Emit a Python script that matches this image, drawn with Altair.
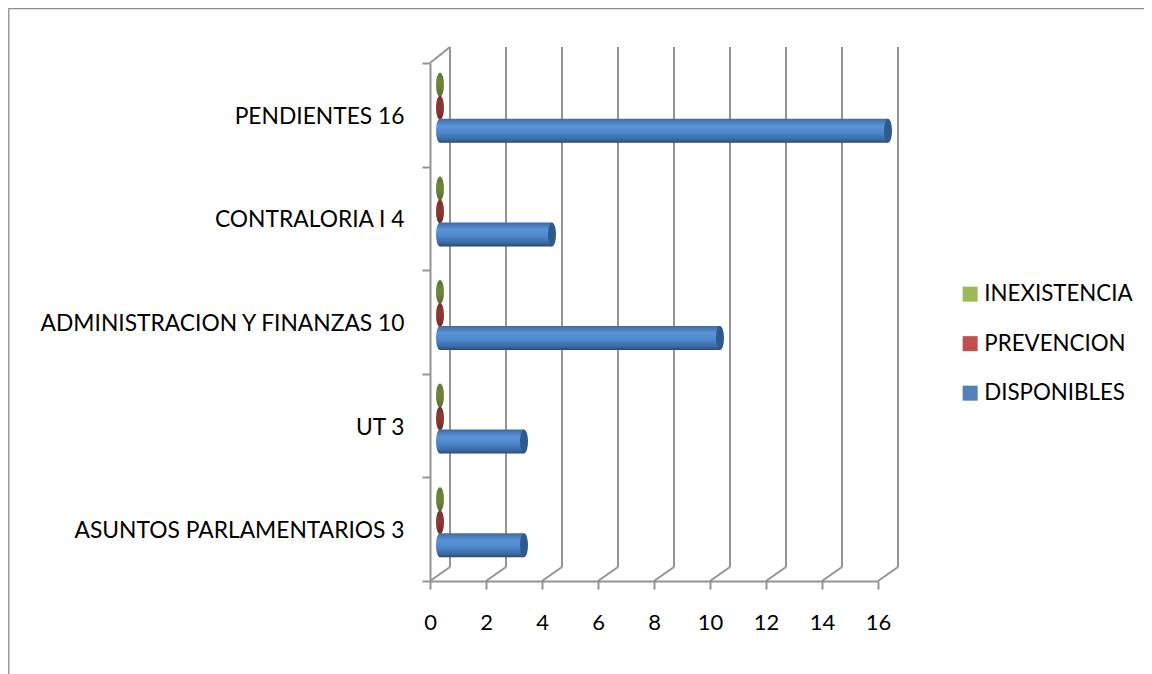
import altair as alt
import pandas as pd

categories = ["PENDIENTES 16", "CONTRALORIA I 4", "ADMINISTRACION Y FINANZAS 10", "UT 3", "ASUNTOS PARLAMENTARIOS 3"]
disponibles = [16, 4, 10, 3, 3]
prevencion = [0, 0, 0, 0, 0]
inexistencia = [0, 0, 0, 0, 0]
series = ["INEXISTENCIA", "PREVENCION", "DISPONIBLES"]
series_colors = ["#9BBB59", "#C0504D", "#4F81BD"]
ticks = [0, 2, 4, 6, 8, 10, 12, 14, 16]

W, H = 448, 518
PL, PT = 422, 55
CW, CH = 1136, 666
FONT = "Lato"
FS = 22
FSY = 22.8
GRID = "#949494"
ELL = "M-0.33,0 A0.33,1 0 1,1 0.33,0 A0.33,1 0 1,1 -0.33,0 Z"
ESIZE = 576
DX = 10

df = pd.DataFrame({"cat": categories, "dis": disponibles, "pre": prevencion, "ine": inexistencia})
long_df = pd.DataFrame({"serie": series, "v": [0, 0, 0]})
tick_df = pd.DataFrame({"t": ticks})
zero_df = pd.DataFrame({"t": [0]})

xs = alt.Scale(domain=[0, 16], nice=False, zero=True)
ys = alt.Scale(domain=categories, paddingInner=0, paddingOuter=0)
XAXIS = alt.Axis(values=ticks, grid=False, format="d", domainColor=GRID, domainWidth=2, tickColor=GRID, tickWidth=2,
                 tickSize=8, labelFont=FONT, labelFontSize=FS, labelColor="#000000", labelPadding=23, labelFlush=False,
                 title=None)
YAXIS = alt.Axis(grid=False, tickBand="extent", domainColor=GRID, domainWidth=2, tickColor=GRID, tickWidth=2, tickSize=8,
                 labelFont=FONT, labelFontSize=FSY, labelColor="#000000", labelPadding=18, labelLimit=500, title=None,
                 labelOffset=1.5)
X = lambda f: alt.X(f, type="quantitative", scale=xs, axis=XAXIS)
Y = alt.Y("cat:N", scale=ys, axis=YAXIS)


def grad(stops):
    return alt.LinearGradient(gradient="linear", x1=0, x2=0, y1=0, y2=1,
                              stops=[alt.GradientStop(offset=o, color=c) for o, c in stops])


blue = grad([(0, "#3F6C9E"), (0.3, "#5A93D8"), (0.55, "#5089CB"), (0.85, "#3A6CA6"), (1, "#29496E")])
red = grad([(0, "#7A2E2C"), (0.45, "#8F3835"), (1, "#742A28")])
green = grad([(0, "#5F7632"), (0.45, "#6E873C"), (1, "#5A7030")])

back = alt.Chart(tick_df).mark_rule(color=GRID, strokeWidth=2, xOffset=20).encode(
    x=X("t"), y=alt.value(-16), y2=alt.value(504))
slant = alt.Chart(tick_df).mark_rule(color=GRID, strokeWidth=2, x2Offset=20).encode(
    x=X("t"), x2="t:Q", y=alt.value(518), y2=alt.value(504))
slant_top = alt.Chart(zero_df).mark_rule(color=GRID, strokeWidth=2, x2Offset=20).encode(
    x=X("t"), x2="t:Q", y=alt.value(0), y2=alt.value(-16))

frame_top = alt.Chart(zero_df).mark_rule(color="#8C8C8C", strokeWidth=1.5).encode(
    x=alt.value(-PL), x2=alt.value(CW - PL), y=alt.value(-PT + 0.5))
frame_left = alt.Chart(zero_df).mark_rule(color="#9A9A9A", strokeWidth=2).encode(
    x=alt.value(-PL + 0.5), y=alt.value(-PT), y2=alt.value(CH - PT))

ine = alt.Chart(df).mark_point(shape=ELL, size=ESIZE, filled=True, opacity=1, fill=green, xOffset=DX, yOffset=-30).encode(
    x=X("ine"), y=Y)
pre = alt.Chart(df).mark_point(shape=ELL, size=ESIZE, filled=True, opacity=1, fill=red, xOffset=DX, yOffset=-7).encode(
    x=X("pre"), y=Y)
bar = alt.Chart(df).mark_bar(fill=blue, size=24, xOffset=DX, x2Offset=DX, yOffset=16).encode(
    x=X("pre"), x2="dis:Q", y=Y)
cap_l = alt.Chart(df).mark_point(shape=ELL, size=ESIZE, filled=True, opacity=1, fill=blue, xOffset=DX, yOffset=16).encode(
    x=X("pre"), y=Y)
cap_r = alt.Chart(df).mark_point(shape=ELL, size=ESIZE, filled=True, opacity=1, fill="#2E5A8C", xOffset=DX, yOffset=16).encode(
    x=X("dis"), y=Y)

legend = alt.Chart(long_df).mark_point(filled=True, size=0, opacity=0).encode(
    x=X("v"),
    color=alt.Color("serie:N", scale=alt.Scale(domain=series, range=series_colors), title=None,
                    legend=alt.Legend(orient="none", legendX=529, legendY=220, symbolType="square", symbolSize=225,
                                      symbolOpacity=1, symbolStrokeWidth=0, labelFont=FONT, labelFontSize=22.3,
                                      labelColor="#000000", rowPadding=26.5, labelLimit=300, labelOffset=3)),
)

chart = alt.layer(frame_top, frame_left, back, slant, slant_top, ine, pre, bar, cap_l, cap_r, legend).properties(
    width=W, height=H,
    autosize=alt.AutoSizeParams(type="none"),
    padding={"left": PL, "top": PT, "right": CW - PL - W, "bottom": CH - PT - H},
    background="#FFFFFF",
).configure_view(stroke=None)

chart.save("out.html", embed_options={"renderer": "svg", "actions": False})
